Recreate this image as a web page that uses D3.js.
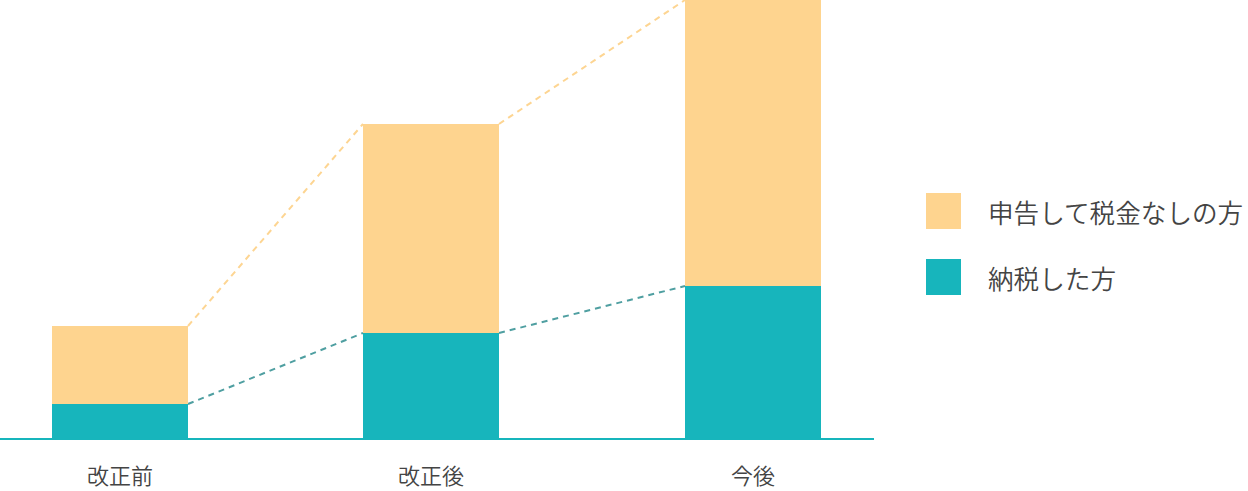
<!DOCTYPE html>
<html>
<head>
<meta charset="utf-8">
<script src="https://cdn.jsdelivr.net/npm/d3@7"></script>
<style>
  body { margin: 0; background: #fff; }
  text { font-family: "Noto Sans CJK JP", sans-serif; font-weight: 350; fill: #444; }
</style>
</head>
<body>
<div class="chart"></div>
<script>
  const categories = ["改正前", "改正後", "今後"];
  const paidTax = [34, 105, 152];        // 納税した方
  const noTax = [78, 209, 286];          // 申告して税金なしの方
  const legendLabels = ["申告して税金なしの方", "納税した方"];

  const width = 1248;
  const height = 491;
  const baseY = 438;
  const orange = "#fed48f";
  const teal = "#17b5bc";

  const svg = d3.select(".chart")
    .append("svg")
    .attr("width", width)
    .attr("height", height);

  const data = categories.map((c, i) => ({ cat: c, paid: paidTax[i], none: noTax[i] }));

  // bars are not evenly spaced in the original
  const x = d3.scaleOrdinal()
    .domain(categories)
    .range([52, 363, 685]);
  const barWidth = 136;

  const y = d3.scaleLinear()
    .domain([0, 438])
    .range([baseY, 0]);

  // dashed connectors
  const connectors = [
    { key: "none", color: "#fdd592", val: d => d.paid + d.none },
    { key: "paid", color: "#4f9fa1", val: d => d.paid }
  ];
  connectors.forEach(c => {
    const segs = d3.pairs(data);
    svg.selectAll(".conn-" + c.key)
      .data(segs)
      .enter()
      .append("line")
      .attr("x1", d => x(d[0].cat) + barWidth)
      .attr("y1", d => y(c.val(d[0])))
      .attr("x2", d => x(d[1].cat))
      .attr("y2", d => y(c.val(d[1])))
      .attr("stroke", c.color)
      .attr("stroke-width", 2)
      .attr("stroke-dasharray", "6,5");
  });

  // teal part
  svg.selectAll(".bar-paid")
    .data(data)
    .enter()
    .append("rect")
    .attr("x", d => x(d.cat))
    .attr("y", d => y(d.paid))
    .attr("width", barWidth)
    .attr("height", d => y(0) - y(d.paid))
    .attr("fill", teal);

  // orange part
  svg.selectAll(".bar-none")
    .data(data)
    .enter()
    .append("rect")
    .attr("x", d => x(d.cat))
    .attr("y", d => y(d.paid + d.none))
    .attr("width", barWidth)
    .attr("height", d => y(d.paid) - y(d.paid + d.none))
    .attr("fill", orange);

  // baseline
  svg.append("line")
    .attr("x1", 0)
    .attr("x2", 874)
    .attr("y1", baseY + 1)
    .attr("y2", baseY + 1)
    .attr("stroke", teal)
    .attr("stroke-width", 2);

  // category labels
  svg.selectAll(".category-label")
    .data(categories)
    .enter()
    .append("text")
    .attr("x", d => x(d) + barWidth / 2)
    .attr("y", 474)
    .attr("text-anchor", "middle")
    .attr("dominant-baseline", "central")
    .attr("font-size", "22px")
    .text(d => d);

  // legend
  const legendColors = [orange, teal];
  const legend = svg.selectAll(".legend")
    .data(legendLabels)
    .enter()
    .append("g")
    .attr("transform", (d, i) => `translate(926, ${193 + i * 66})`);

  legend.append("rect")
    .attr("width", 35)
    .attr("height", 36)
    .attr("fill", (d, i) => legendColors[i]);

  legend.append("text")
    .attr("x", 62)
    .attr("y", 18)
    .attr("dominant-baseline", "central")
    .attr("font-size", "25.6px")
    .text(d => d);
</script>
</body>
</html>
